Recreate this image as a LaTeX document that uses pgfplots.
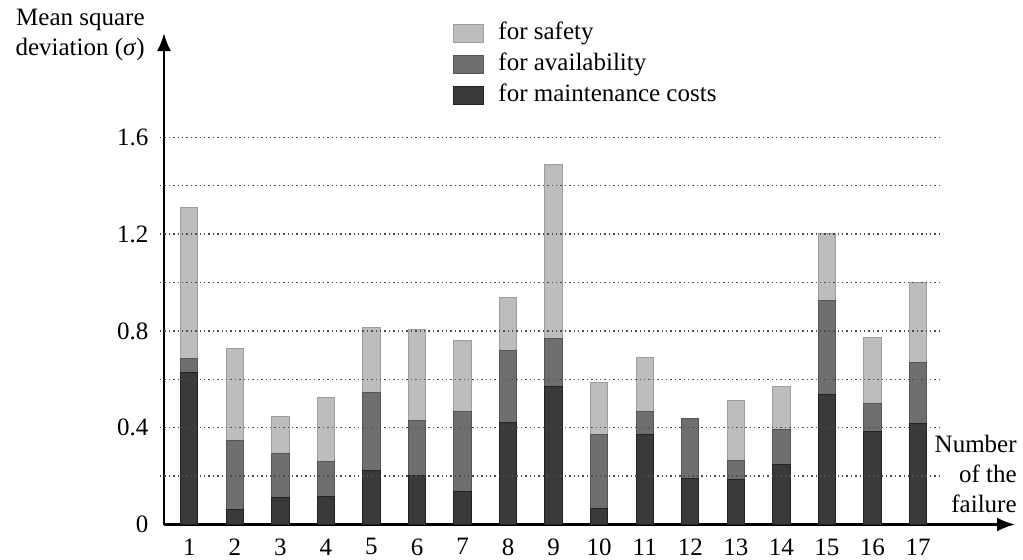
\documentclass[border=0pt]{standalone}
\usepackage{fontspec}
\setmainfont{Liberation Serif}
\usepackage{pgfplots}
\pgfplotsset{compat=1.18}
\usetikzlibrary{arrows.meta}
\definecolor{cSafe}{HTML}{BDBDBD}
\definecolor{cSafeE}{HTML}{9E9E9E}
\definecolor{cAvail}{HTML}{6F6F6F}
\definecolor{cAvailE}{HTML}{555555}
\definecolor{cMaint}{HTML}{3A3A3A}
\definecolor{cMaintE}{HTML}{222222}
\newcommand{\myfont}{\fontsize{12.5}{15}\selectfont}
\pgfplotsset{sqleg/.style={legend image code/.code={\draw[##1] (0pt,-4.5pt) rectangle (15pt,4.5pt); \path (0pt,0pt) (21pt,0pt);}}}
\begin{document}
\begin{tikzpicture}
\useasboundingbox (0,0) rectangle (511.5pt,279.5pt);
\begin{axis}[
  at={(82pt,17.25pt)}, anchor=south west,
  scale only axis, width=425.5pt, height=245.75pt,
  xmin=0.445, xmax=19.13, ymin=0, ymax=2.031,
  axis x line=bottom, axis y line=left,
  axis line style={line width=1.2pt, -{Latex[length=9pt,width=7pt]}},
  ybar stacked, bar width=8.65pt,
  xtick={1,2,3,4,5,6,7,8,9,10,11,12,13,14,15,16,17},
  xticklabels={1,2,3,4,5,6,7,8,9,10,11,12,13,14,15,16,17},
  ytick={0,0.4,0.8,1.2,1.6},
  yticklabels={0,0.4,0.8,1.2,1.6},
  major tick length=0pt,
  tick label style={font=\myfont},
  xticklabel style={yshift=-3.5pt},
  yticklabel style={xshift=-4.3pt},
  clip=false,
  reverse legend,
  legend cell align=left,
  legend style={draw=none, fill=none, at={(0.3397,1.0285)}, anchor=north west,
    font=\myfont, row sep=1.5pt, inner sep=0pt,
    nodes={inner sep=1pt, text height=9pt, text depth=3pt}},
]
\draw[black!70, line width=0.7pt, dash pattern=on 0.7pt off 1.5pt] (axis cs:0.357,0.2) -- (axis cs:17.55,0.2);
\draw[black!70, line width=0.7pt, dash pattern=on 0.7pt off 1.5pt] (axis cs:0.357,0.4) -- (axis cs:17.55,0.4);
\draw[black!70, line width=0.7pt, dash pattern=on 0.7pt off 1.5pt] (axis cs:0.357,0.6) -- (axis cs:17.55,0.6);
\draw[black!70, line width=0.7pt, dash pattern=on 0.7pt off 1.5pt] (axis cs:0.357,0.8) -- (axis cs:17.55,0.8);
\draw[black!70, line width=0.7pt, dash pattern=on 0.7pt off 1.5pt] (axis cs:0.357,1.0) -- (axis cs:17.55,1.0);
\draw[black!70, line width=0.7pt, dash pattern=on 0.7pt off 1.5pt] (axis cs:0.357,1.2) -- (axis cs:17.55,1.2);
\draw[black!70, line width=0.7pt, dash pattern=on 0.7pt off 1.5pt] (axis cs:0.357,1.4) -- (axis cs:17.55,1.4);
\draw[black!70, line width=0.7pt, dash pattern=on 0.7pt off 1.5pt] (axis cs:0.357,1.6) -- (axis cs:17.55,1.6);
\addplot[fill=cMaint, draw=cMaintE, line width=0.5pt, sqleg]
  coordinates {(1,0.627) (2,0.060) (3,0.112) (4,0.116) (5,0.225) (6,0.202) (7,0.136) (8,0.422) (9,0.570) (10,0.067) (11,0.370) (12,0.191) (13,0.188) (14,0.250) (15,0.536) (16,0.386) (17,0.418)};
\addlegendentry{for maintenance costs}
\addplot[fill=cAvail, draw=cAvailE, line width=0.5pt, sqleg]
  coordinates {(1,0.057) (2,0.289) (3,0.181) (4,0.145) (5,0.320) (6,0.226) (7,0.329) (8,0.296) (9,0.197) (10,0.303) (11,0.099) (12,0.248) (13,0.077) (14,0.143) (15,0.390) (16,0.115) (17,0.252)};
\addlegendentry{for availability}
\addplot[fill=cSafe, draw=cSafeE, line width=0.5pt, sqleg]
  coordinates {(1,0.625) (2,0.378) (3,0.153) (4,0.263) (5,0.271) (6,0.376) (7,0.297) (8,0.222) (9,0.721) (10,0.216) (11,0.220) (12,0.000) (13,0.247) (14,0.179) (15,0.277) (16,0.270) (17,0.330)};
\addlegendentry{for safety}
\node[anchor=north east, align=right, font=\myfont, inner sep=0pt] at (rel axis cs:-0.0223,1.0488) {Mean square\\deviation (\textit{σ})};
\node[anchor=north east, align=right, font=\myfont, inner sep=0pt] at (rel axis cs:1.0024,0.182) {Number\\of the\\failure};
\end{axis}
\end{tikzpicture}
\end{document}
